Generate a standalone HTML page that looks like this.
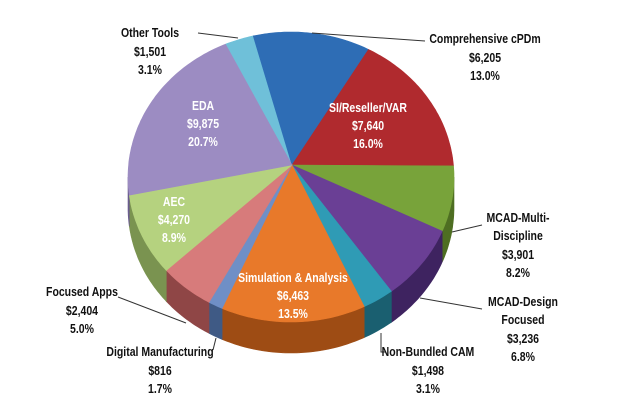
<!DOCTYPE html>
<html><head><meta charset="utf-8"><style>
html,body{margin:0;padding:0;background:#fff;width:625px;height:405px;overflow:hidden}
svg text{font-family:"Liberation Sans Narrow","Liberation Sans",sans-serif;font-weight:bold;font-size:12.5px;text-anchor:middle}
.w{fill:#fff}.k{fill:#111}
</style></head><body>
<svg id="s" width="625" height="405" viewBox="0 0 625 405" xmlns="http://www.w3.org/2000/svg">
<g id="sides"></g><g id="tops"></g>
<g stroke="#333" stroke-width="1" fill="none">
<polyline points="198,33 238,38"/>
<polyline points="312,33 425,41"/>
<polyline points="452,232 482,225"/>
<polyline points="420,298 482,309"/>
<polyline points="381,333 381,352 386,352"/>
<polyline points="216,338 213,350"/>
<polyline points="118,297 186,323"/>
</g>
<g class="k sc" transform="scale(0.84,1)">
<text x="150" y="37">Other Tools</text><text x="150" y="56">$1,501</text><text x="150" y="74">3.1%</text>
<text x="485" y="43">Comprehensive cPDm</text><text x="485" y="62">$6,205</text><text x="485" y="80">13.0%</text>
<text x="518" y="222">MCAD-Multi-</text><text x="518" y="240">Discipline</text><text x="518" y="259">$3,901</text><text x="518" y="277">8.2%</text>
<text x="523" y="306">MCAD-Design</text><text x="523" y="324">Focused</text><text x="523" y="343">$3,236</text><text x="523" y="361">6.8%</text>
<text x="428" y="356">Non-Bundled CAM</text><text x="428" y="375">$1,498</text><text x="428" y="393">3.1%</text>
<text x="160" y="356">Digital Manufacturing</text><text x="160" y="375">$816</text><text x="160" y="393">1.7%</text>
<text x="82" y="296">Focused Apps</text><text x="82" y="315">$2,404</text><text x="82" y="333">5.0%</text>
</g>
<g class="w sc" transform="scale(0.84,1)">
<text x="368" y="112">SI/Reseller/VAR</text><text x="368" y="130">$7,640</text><text x="368" y="148">16.0%</text>
<text x="203" y="110">EDA</text><text x="203" y="128">$9,875</text><text x="203" y="146">20.7%</text>
<text x="174" y="206">AEC</text><text x="174" y="224">$4,270</text><text x="174" y="242">8.9%</text>
<text x="293" y="282">Simulation &amp; Analysis</text><text x="293" y="300">$6,463</text><text x="293" y="318">13.5%</text>
</g>
</svg>
<script>
document.querySelectorAll('.sc text').forEach(function(t){t.setAttribute('x',(parseFloat(t.getAttribute('x'))/0.84).toFixed(1));});
var cx=291,cy=177,rx=163,ry=145,ax=292,ay=165,D=31;
var sl=[[-113.7,-103.4,'#6fc0d9','#3f8ea5'],[-103.4,-61.6,'#2e6db5','#1d4a80'],[-61.6,-4.4,'#b02a2e','#7a1b1e'],
[-4.4,21.9,'#78a33a','#4e6e22'],[21.9,52,'#6a3f95','#3e2360'],[52,63.3,'#2f9bb5','#1a5f70'],
[63.3,115,'#e8792a','#9e4c14'],[115,120.2,'#6f8fc6','#3f5a85'],[120.2,139.9,'#d77b7b','#8f4646'],
[139.9,172.8,'#b5d27f','#7a9350'],[172.8,246.3,'#9c8cc2','#6a5c8e']];
function P(t,d){var r=t*Math.PI/180;return [cx+rx*Math.cos(r),cy+ry*Math.sin(r)+(d||0)];}
function arc(a,b,d){var s='';for(var t=a;t<=b;t+=1){var p=P(t,d);s+=p[0].toFixed(1)+','+p[1].toFixed(1)+' ';}var p=P(b,d);return s+p[0].toFixed(1)+','+p[1].toFixed(1)+' ';}
var NS='http://www.w3.org/2000/svg',S=document.getElementById('sides'),T=document.getElementById('tops');
sl.forEach(function(q){
 var a=Math.max(q[0],0),b=Math.min(q[1],180);
 if(b>a){var pts=arc(a,b,0);var back='';for(var t=b;t>=a;t-=1){var p=P(t,D);back+=p[0].toFixed(1)+','+p[1].toFixed(1)+' ';}var p=P(a,D);back+=p[0].toFixed(1)+','+p[1].toFixed(1);
  var e=document.createElementNS(NS,'polygon');e.setAttribute('points',pts+back);e.setAttribute('fill',q[3]);e.setAttribute('stroke',q[3]);e.setAttribute('stroke-width','0.6');S.appendChild(e);}
 var e=document.createElementNS(NS,'polygon');e.setAttribute('points',ax+','+ay+' '+arc(q[0],q[1],0));e.setAttribute('fill',q[2]);e.setAttribute('stroke',q[2]);e.setAttribute('stroke-width','0.6');T.appendChild(e);
});
</script>
</body></html>
